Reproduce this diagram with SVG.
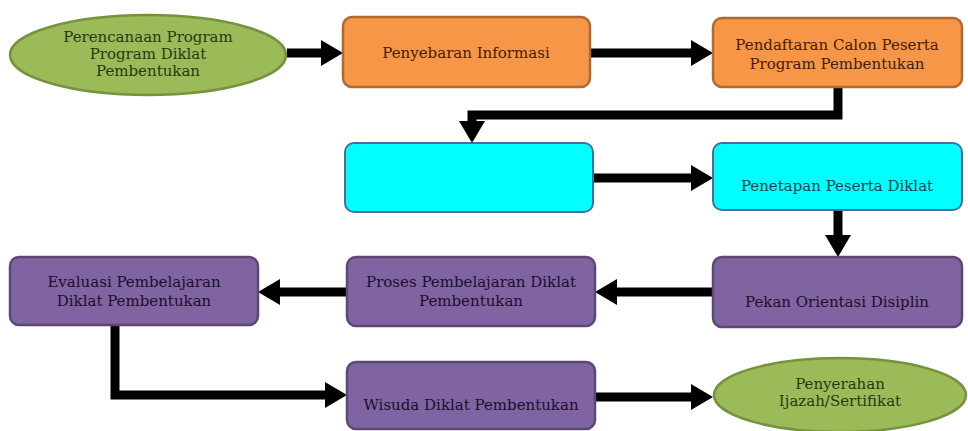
<svg xmlns="http://www.w3.org/2000/svg" width="968" height="431" viewBox="0 0 968 431">
<style>
.t{font-family:"DejaVu Serif","Liberation Serif",serif;font-size:15px;text-anchor:middle}
.green{fill:#9bbb59;stroke:#76923c;stroke-width:2.5}
.orange{fill:#f79646;stroke:#b06a30;stroke-width:2.5}
.cyan{fill:#00ffff;stroke:#41719c;stroke-width:2}
.purple{fill:#8064a2;stroke:#5c4776;stroke-width:2.5}
.tg{fill:#2a3810}
.to{fill:#40200c}
.tc{fill:#123f4e}
.tp{fill:#1a0f2c}
.conn{fill:none;stroke:#000;stroke-width:9;stroke-linejoin:miter;marker-end:url(#ah)}
</style>
<defs>
<marker id="ah" markerUnits="userSpaceOnUse" markerWidth="24" markerHeight="26" refX="0" refY="13" orient="auto">
<path d="M0,0 L22,13 L0,26 z" fill="#000"/>
</marker>
</defs>
<rect width="968" height="431" fill="#fff"/>
<g id="connectors">
<path class="conn" d="M287,53 H321"/>
<path class="conn" d="M590,53 H691"/>
<path class="conn" d="M838,87 V115 H472 V121"/>
<path class="conn" d="M593,178 H691"/>
<path class="conn" d="M838,210 V235"/>
<path class="conn" d="M713,292 H617"/>
<path class="conn" d="M347,292 H280"/>
<path class="conn" d="M115,325 V395 H325"/>
<path class="conn" d="M595,397 H691"/>
</g>
<g id="n1">
<ellipse class="green" cx="148" cy="55" rx="138" ry="40"/>
<text class="t tg" x="148" y="42">Perencanaan Program</text>
<text class="t tg" x="148" y="59">Program Diklat</text>
<text class="t tg" x="148" y="76">Pembentukan</text>
</g>
<g id="n2">
<rect class="orange" x="343" y="17" width="247" height="70" rx="9"/>
<text class="t to" x="466" y="58">Penyebaran Informasi</text>
</g>
<g id="n3">
<rect class="orange" x="713" y="18" width="249" height="69" rx="9"/>
<text class="t to" x="837" y="50">Pendaftaran Calon Peserta</text>
<text class="t to" x="837" y="69">Program Pembentukan</text>
</g>
<g id="n4">
<rect class="cyan" x="345" y="143" width="248" height="69" rx="9"/>
</g>
<g id="n5">
<rect class="cyan" x="713" y="143" width="249" height="67" rx="9"/>
<text class="t tc" x="837" y="191">Penetapan Peserta Diklat</text>
</g>
<g id="n6">
<rect class="purple" x="713" y="257" width="249" height="70" rx="9"/>
<text class="t tp" x="837" y="307">Pekan Orientasi Disiplin</text>
</g>
<g id="n7">
<rect class="purple" x="347" y="257" width="248" height="69" rx="9"/>
<text class="t tp" x="471" y="287">Proses Pembelajaran Diklat</text>
<text class="t tp" x="471" y="306">Pembentukan</text>
</g>
<g id="n8">
<rect class="purple" x="10" y="257" width="248" height="68" rx="9"/>
<text class="t tp" x="134" y="287">Evaluasi Pembelajaran</text>
<text class="t tp" x="134" y="306">Diklat Pembentukan</text>
</g>
<g id="n9">
<rect class="purple" x="347" y="362" width="248" height="67" rx="9"/>
<text class="t tp" x="471" y="410">Wisuda Diklat Pembentukan</text>
</g>
<g id="n10">
<ellipse class="green" cx="840" cy="395" rx="126" ry="37"/>
<text class="t tg" x="840" y="389">Penyerahan</text>
<text class="t tg" x="840" y="406">Ijazah/Sertifikat</text>
</g>
</svg>
